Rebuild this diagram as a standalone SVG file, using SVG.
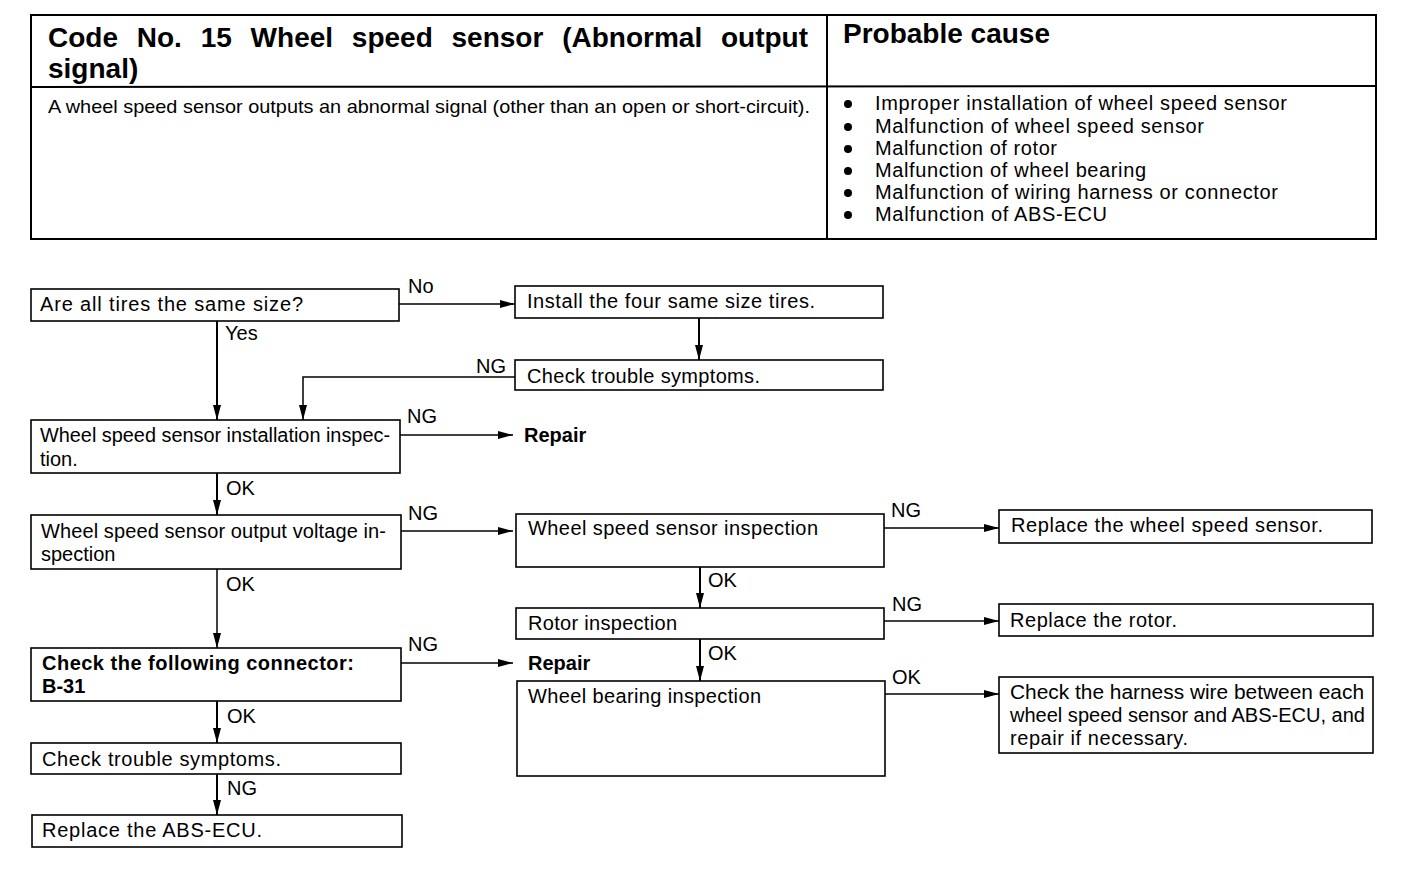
<svg xmlns="http://www.w3.org/2000/svg" width="1408" height="872" viewBox="0 0 1408 872">
<style>
text{font-family:"Liberation Sans",Arial,sans-serif;fill:#000}
.t{font-size:20px}
.d{font-size:19px}
.b{font-weight:bold}
.h{font-size:28px;font-weight:bold}
.lbl{font-size:20px}
.box{fill:#fff;stroke:#000;stroke-width:1.6}
.tbl{fill:none;stroke:#000;stroke-width:2}
.c{fill:none;stroke:#000;stroke-width:1.5}
.cv{fill:none;stroke:#000;stroke-width:2}
</style>
<defs>
<marker id="ah" markerUnits="userSpaceOnUse" markerWidth="16" markerHeight="10" refX="15" refY="5" orient="auto">
<path d="M0,1 L15,5 L0,9 Z" fill="#000"/>
</marker>
</defs>
<rect width="1408" height="872" fill="#fff"/>

<g id="table">
<rect class="tbl" x="31" y="15" width="1345" height="224"/>
<line class="tbl" x1="827" y1="15" x2="827" y2="239"/>
<line class="tbl" x1="31" y1="87" x2="1376" y2="86"/>
<text class="h" x="48" y="47" textLength="760" lengthAdjust="spacing" word-spacing="11">Code No. 15 Wheel speed sensor (Abnormal output</text>
<text class="h" x="48" y="78">signal)</text>
<text class="h" x="843" y="43">Probable cause</text>
<text class="d" x="48" y="113" textLength="762" lengthAdjust="spacingAndGlyphs">A wheel speed sensor outputs an abnormal signal (other than an open or short-circuit).</text>
<g>
<circle cx="848" cy="104" r="4"/>
<circle cx="848" cy="127" r="4"/>
<circle cx="848" cy="149" r="4"/>
<circle cx="848" cy="171" r="4"/>
<circle cx="848" cy="193" r="4"/>
<circle cx="848" cy="215" r="4"/>
<text class="t" x="875" y="110" textLength="412" lengthAdjust="spacing">Improper installation of wheel speed sensor</text>
<text class="t" x="875" y="133" textLength="329" lengthAdjust="spacing">Malfunction of wheel speed sensor</text>
<text class="t" x="875" y="155" textLength="182" lengthAdjust="spacing">Malfunction of rotor</text>
<text class="t" x="875" y="177" textLength="271" lengthAdjust="spacing">Malfunction of wheel bearing</text>
<text class="t" x="875" y="199" textLength="403" lengthAdjust="spacing">Malfunction of wiring harness or connector</text>
<text class="t" x="875" y="221" textLength="232" lengthAdjust="spacing">Malfunction of ABS-ECU</text>
</g>
</g>

<g id="connectors">
<line class="c" x1="399" y1="304" x2="515" y2="304" marker-end="url(#ah)"/>
<line class="cv" x1="217" y1="321" x2="217" y2="420" marker-end="url(#ah)"/>
<line class="cv" x1="699" y1="318" x2="699" y2="360" marker-end="url(#ah)"/>
<polyline class="c" points="515,377 303,377 303,420" marker-end="url(#ah)"/>
<line class="c" x1="400" y1="435" x2="513" y2="435" marker-end="url(#ah)"/>
<line class="cv" x1="217" y1="473" x2="217" y2="515" marker-end="url(#ah)"/>
<line class="c" x1="401" y1="531" x2="513" y2="531" marker-end="url(#ah)"/>
<line class="c" x1="217" y1="569" x2="217" y2="648" marker-end="url(#ah)"/>
<line class="c" x1="401" y1="663" x2="513" y2="663" marker-end="url(#ah)"/>
<line class="cv" x1="217" y1="701" x2="217" y2="743" marker-end="url(#ah)"/>
<line class="cv" x1="217" y1="774" x2="217" y2="815" marker-end="url(#ah)"/>
<line class="c" x1="884" y1="528" x2="999" y2="528" marker-end="url(#ah)"/>
<line class="cv" x1="700" y1="567" x2="700" y2="608" marker-end="url(#ah)"/>
<line class="c" x1="884" y1="621" x2="999" y2="621" marker-end="url(#ah)"/>
<line class="cv" x1="700" y1="639" x2="700" y2="681" marker-end="url(#ah)"/>
<line class="c" x1="885" y1="694" x2="999" y2="694" marker-end="url(#ah)"/>
<text class="lbl" x="408" y="293">No</text>
<text class="lbl" x="225" y="340">Yes</text>
<text class="lbl" x="476" y="373">NG</text>
<text class="lbl" x="407" y="423">NG</text>
<text class="lbl" x="226" y="495">OK</text>
<text class="lbl" x="408" y="520">NG</text>
<text class="lbl" x="226" y="591">OK</text>
<text class="lbl" x="408" y="651">NG</text>
<text class="lbl" x="227" y="723">OK</text>
<text class="lbl" x="227" y="795">NG</text>
<text class="lbl" x="891" y="517">NG</text>
<text class="lbl" x="708" y="587">OK</text>
<text class="lbl" x="892" y="611">NG</text>
<text class="lbl" x="708" y="660">OK</text>
<text class="lbl" x="892" y="684">OK</text>
</g>

<g id="n-tires">
<rect class="box" x="31" y="289" width="368" height="32"/>
<text class="t" x="40" y="311" textLength="263" lengthAdjust="spacing">Are all tires the same size?</text>
</g>
<g id="n-install">
<rect class="box" x="515" y="286" width="368" height="32"/>
<text class="t" x="527" y="308" textLength="288" lengthAdjust="spacing">Install the four same size tires.</text>
</g>
<g id="n-check1">
<rect class="box" x="515" y="360" width="368" height="30"/>
<text class="t" x="527" y="383" textLength="233" lengthAdjust="spacing">Check trouble symptoms.</text>
</g>
<g id="n-install-insp">
<rect class="box" x="31" y="420" width="369" height="53"/>
<text class="t" x="40" y="442" textLength="350" lengthAdjust="spacingAndGlyphs">Wheel speed sensor installation inspec-</text>
<text class="t" x="40" y="466">tion.</text>
</g>
<g id="n-repair1">
<text class="t b" x="524" y="442">Repair</text>
</g>
<g id="n-voltage">
<rect class="box" x="31" y="515" width="370" height="54"/>
<text class="t" x="41" y="538" textLength="345" lengthAdjust="spacing">Wheel speed sensor output voltage in-</text>
<text class="t" x="41" y="561">spection</text>
</g>
<g id="n-connector">
<rect class="box" x="31" y="648" width="370" height="53"/>
<text class="t b" x="42" y="670" textLength="312" lengthAdjust="spacing">Check the following connector:</text>
<text class="t b" x="42" y="693">B-31</text>
</g>
<g id="n-repair2">
<text class="t b" x="528" y="670">Repair</text>
</g>
<g id="n-check2">
<rect class="box" x="31" y="743" width="370" height="31"/>
<text class="t" x="42" y="766" textLength="239" lengthAdjust="spacing">Check trouble symptoms.</text>
</g>
<g id="n-ecu">
<rect class="box" x="32" y="815" width="370" height="32"/>
<text class="t" x="42" y="837" textLength="220" lengthAdjust="spacing">Replace the ABS-ECU.</text>
</g>
<g id="n-sensor-insp">
<rect class="box" x="516" y="514" width="368" height="53"/>
<text class="t" x="528" y="535" textLength="290" lengthAdjust="spacing">Wheel speed sensor inspection</text>
</g>
<g id="n-rotor-insp">
<rect class="box" x="516" y="608" width="368" height="31"/>
<text class="t" x="528" y="630" textLength="149" lengthAdjust="spacing">Rotor inspection</text>
</g>
<g id="n-bearing">
<rect class="box" x="517" y="681" width="368" height="95"/>
<text class="t" x="528" y="703" textLength="233" lengthAdjust="spacing">Wheel bearing inspection</text>
</g>
<g id="n-replace-sensor">
<rect class="box" x="999" y="510" width="373" height="33"/>
<text class="t" x="1011" y="532" textLength="312" lengthAdjust="spacing">Replace the wheel speed sensor.</text>
</g>
<g id="n-replace-rotor">
<rect class="box" x="999" y="604" width="374" height="32"/>
<text class="t" x="1010" y="627" textLength="167" lengthAdjust="spacing">Replace the rotor.</text>
</g>
<g id="n-harness">
<rect class="box" x="999" y="677" width="374" height="76"/>
<text class="t" x="1010" y="699" textLength="354" lengthAdjust="spacingAndGlyphs">Check the harness wire between each</text>
<text class="t" x="1010" y="722" textLength="355" lengthAdjust="spacingAndGlyphs">wheel speed sensor and ABS-ECU, and</text>
<text class="t" x="1010" y="745" textLength="178" lengthAdjust="spacing">repair if necessary.</text>
</g>
</svg>
